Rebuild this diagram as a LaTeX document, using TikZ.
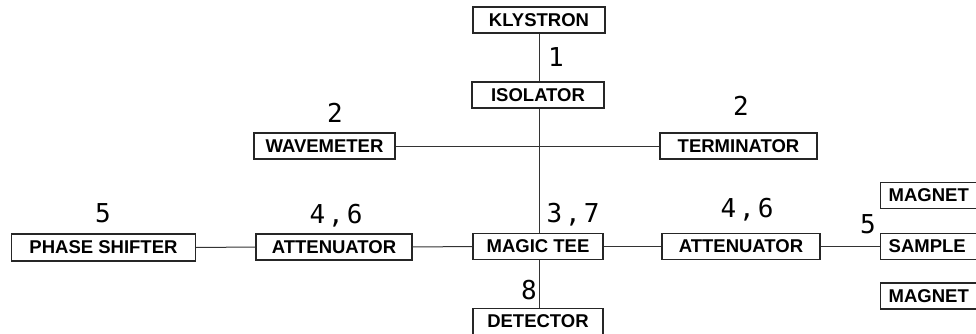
\documentclass[tikz,border=0pt]{standalone}
\usepackage{fontspec}
\setmainfont{Liberation Sans}
\newfontfamily\numfont{DejaVu Sans Mono}
\newcommand{\pairsep}[2]{#1\kern3pt,\kern3pt#2}
\begin{document}
\begin{tikzpicture}[x=1pt,y=-1pt,
  box/.style={draw=black!85, line width=1.3pt, inner sep=0pt, font=\fontsize{18.5}{20}\selectfont\bfseries},
  rbox/.style={box, anchor=west, inner xsep=8pt, text width=94pt, minimum height=26pt, align=left},
  num/.style={font=\numfont\fontsize{26}{28}\selectfont, inner sep=0pt},
  wire/.style={line width=1pt, draw=black!80}]
\useasboundingbox (0,0) rectangle (976,334);
\clip (0,0) rectangle (976,334);
\coordinate (spine) at (539,0);
\node[box, minimum width=132pt, minimum height=26pt] (klystron) at (539,20) {KLYSTRON};
\node[box, minimum width=132pt, minimum height=26pt] (isolator) at (538,95) {ISOLATOR};
\node[box, minimum width=141pt, minimum height=26pt] (wavemeter) at (324.5,146) {WAVEMETER};
\node[box, minimum width=157pt, minimum height=26pt] (terminator) at (738.5,146) {TERMINATOR};
\node[box, minimum width=184pt, minimum height=27pt] (phase) at (103.5,247.5) {PHASE SHIFTER};
\node[box, minimum width=156pt, minimum height=26pt] (attL) at (334,247) {ATTENUATOR};
\node[box, minimum width=130pt, minimum height=26pt] (tee) at (538,246.5) {MAGIC TEE};
\node[box, minimum width=158pt, minimum height=26pt] (attR) at (741,246.5) {ATTENUATOR};
\node[rbox] (sample) at (880,246.5) {SAMPLE};
\node[rbox] (magnetT) at (880,195.5) {MAGNET};
\node[rbox] (magnetB) at (880,296) {MAGNET};
\node[box, minimum width=130pt, minimum height=26pt] (detector) at (538,321.5) {DETECTOR};
% numbers
\node[num] (n1) at (556,57) {1};
\node[num] (n2a) at (335,113) {2};
\node[num] (n2b) at (741,106) {2};
\node[num] (n5a) at (103,213) {5};
\node[num] (n46a) at (336,216) {\pairsep{4}{6}};
\node[num] (n37) at (573,215) {\pairsep{3}{7}};
\node[num] (n46b) at (747,210) {\pairsep{4}{6}};
\node[num] (n5b) at (868,224) {5};
\node[num] (n8) at (529,290) {8};
% wires
\draw[wire] (klystron.south -| spine) -- (isolator.north -| spine);
\draw[wire] (isolator.south -| spine) -- (tee.north -| spine);
\draw[wire] (tee.south -| spine) -- (detector.north -| spine);
\draw[wire] (wavemeter.east) -- (terminator.west);
\draw[wire] (phase.east) -- (attL.west);
\draw[wire] (attL.east) -- (tee.west);
\draw[wire] (tee.east) -- (attR.west);
\draw[wire] (attR.east) -- (sample.west);
\end{tikzpicture}
\end{document}
